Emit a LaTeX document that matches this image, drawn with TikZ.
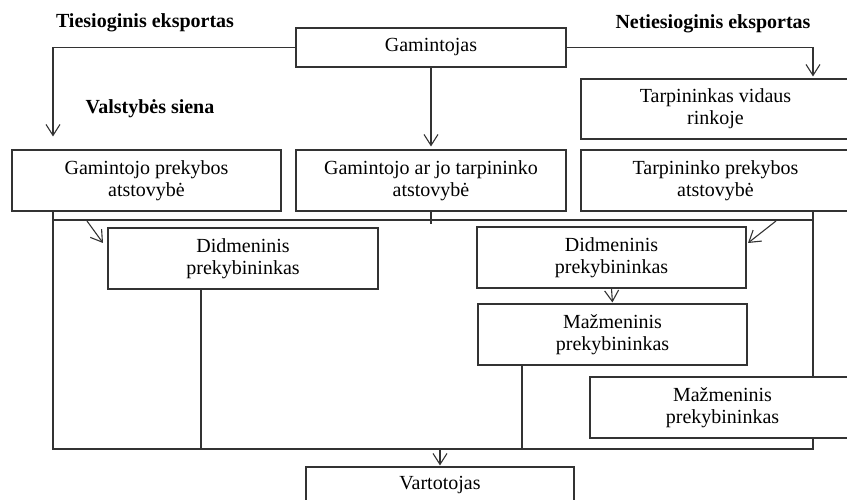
\documentclass[tikz,border=0pt]{standalone}
\usepackage{fontspec}
\setmainfont{Liberation Serif}
\usetikzlibrary{arrows.meta,calc}
\begin{document}
\begin{tikzpicture}[x=1pt,y=-1pt,
  box/.style={draw=black!80, line width=1.1pt, fill=white, align=center, inner sep=0pt,
    font=\fontsize{20}{22}\selectfont},
  title/.style={font=\fontsize{20}{22}\selectfont\bfseries, inner sep=0pt},
  conn/.style={draw=black!80, line width=1.1pt},
  arr/.style={conn, -{Straight Barb[length=11pt,width=14pt]}}]
\useasboundingbox (0,0) rectangle (847,500);
\clip (0,0) rectangle (847,500);

% helper coordinates
\coordinate (L) at (53,0);
\coordinate (R) at (813,0);
\coordinate (mid) at (0,220);
\coordinate (bot) at (0,449);
\coordinate (M) at (522,0);
\coordinate (D) at (201,0);

% boxes
\node[box, minimum width=270pt, minimum height=39pt] (gam) at (431,47.5) {Gamintojas};
\node[box, minimum width=269pt, minimum height=61pt] (gpa) at (146.5,180.5) {Gamintojo prekybos\\atstovybė};
\node[box, minimum width=270pt, minimum height=61pt] (gta) at (431,180.5) {Gamintojo ar jo tarpininko\\atstovybė};
\node[box, minimum width=269pt, minimum height=60pt] (tvr) at (715.5,109) {Tarpininkas vidaus\\rinkoje};
\node[box, minimum width=269pt, minimum height=61pt] (tpa) at (715.5,180.5) {Tarpininko prekybos\\atstovybė};

% frame
\draw[conn] (gpa.south -| L) -- (L |- bot) -- (R |- bot) -- (tpa.south -| R);
\draw[conn] (L |- mid) -- (R |- mid);
\draw[conn] (gta.south) -- ++(0,12);

\node[box, minimum width=270pt, minimum height=61pt] (dl) at (243,258.5) {Didmeninis\\prekybininkas};
\node[box, minimum width=269pt, minimum height=61pt] (dr) at (611.5,257.5) {Didmeninis\\prekybininkas};
\node[box, minimum width=269pt, minimum height=61pt] (mm) at (612.5,334.5) {Mažmeninis\\prekybininkas};
\node[box, minimum width=265pt, minimum height=61pt] (mr) at (722.5,407.5) {Mažmeninis\\prekybininkas};
\node[box, minimum width=268pt, minimum height=36pt] (vart) at (440,485) {Vartotojas};

% titles
\node[title] (t1) at (145,23) {Tiesioginis eksportas};
\node[title] (t2) at (713,24) {Netiesioginis eksportas};
\node[title] (t3) at (150,109) {Valstybės siena};

% connectors
\draw[arr, shorten >=13pt] (gam.west) -| (L |- gpa.north);
\draw[arr, shorten >=3pt] (gam.south) -- (gta.north);
\draw[arr, shorten >=2pt] (gam.east) -| (R |- tvr.north);
\draw[arr, shorten >=1pt] (dr.south) -- (mm.north);
\draw[conn] (D |- dl.south) -- (D |- bot);
\draw[conn] (M |- mm.south) -- (M |- bot);
\draw[arr, shorten >=1pt] (vart.north |- bot) -- (vart.north);
\coordinate (d1s) at (87,221);
\coordinate (d1e) at (103,243);
\coordinate (d2s) at (776,221);
\coordinate (d2e) at (748,243);
\draw[arr] (d1s) -- (d1e);
\draw[arr] (d2s) -- (d2e);
\end{tikzpicture}
\end{document}
